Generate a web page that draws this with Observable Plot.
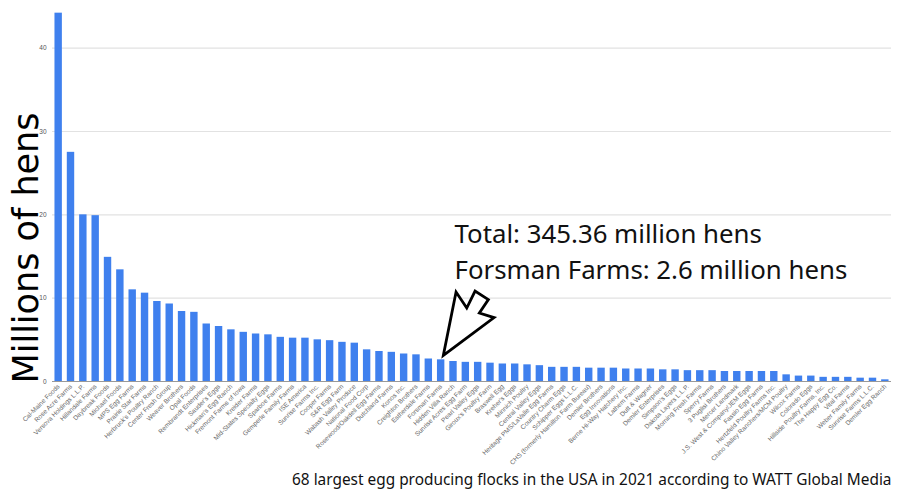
<!DOCTYPE html>
<html>
<head>
<meta charset="utf-8">
<script src="https://cdn.jsdelivr.net/npm/d3@7"></script>
<script src="https://cdn.jsdelivr.net/npm/@observablehq/plot@0.6"></script>
<style>
  html, body { margin: 0; padding: 0; background: #fff; }
  #chart svg { display: block; }
</style>
</head>
<body>
<div id="chart"></div>
<script>
const companies = [
  "Cal-Maine Foods", "Rose Acre Farms", "Versova Holdings L.L.P.", "Hillandale Farms", "Daybreak Foods",
  "Michael Foods", "MPS Egg Farms", "Prairie Star Farms", "Herbruck's Poultry Ranch", "Center Fresh Group",
  "Weaver Brothers", "Opal Foods", "Rembrandt Enterprises", "Sauder's Eggs", "Hickman's Egg Ranch",
  "Fremont Farms of Iowa", "Kreider Farms", "Mid-States Specialty Eggs", "Sparboe Farms", "Gemperle Family Farms",
  "ISE America", "Sunrise Farms Inc.", "Cooper Farms", "S&R Egg Farm", "Wabash Valley Produce",
  "National Food Corp", "Rosewood/Oakdell Egg Farms", "Dutchland Farms", "Konos Inc.", "Creighton Brothers",
  "Estherdale Farms", "Forsman Farms", "Hidden Villa Ranch", "Sunrise Acres Egg Farm", "Pearl Valley Eggs",
  "Giroux's Poultry Farm", "Braswell Egg", "Kreher's Eggs", "Minnich Poultry", "Central Valley Eggs",
  "Heritage PMS/LaValle Egg Farms", "Country Charm Eggs", "Schipper Eggs L.L.C.", "CHS (formerly Hamilton Farm Bureau)", "Demler Brothers",
  "Egg Innovations", "Berne Hi-Way Hatchery Inc.", "Lathem Farms", "Dutt & Wagner", "Demler Enterprises",
  "Simpson's Eggs", "Dakota Layers L.L.P.", "Morning Fresh Farms", "Sperry Farms", "3 Puglisi Brothers",
  "Mercer Landmark", "J.S. West & Company/JEM Eggs", "Fassio Egg Farms", "Hertzfeld Poultry Farms Inc.", "Chino Valley Ranchers/MCM Poultry",
  "Wilcox Farms", "Colorado Eggs", "Hillside Poultry Farms, Inc.", "The Happy Egg Co.", "Vital Farms",
  "Weber Family Farms", "Sunrise Farms L.L.C.", "Demler Egg Ranch"
];
const hens = [
  44.2, 27.5, 20.0, 19.9, 14.9,
  13.4, 11.0, 10.6, 9.6, 9.3,
  8.4, 8.3, 6.9, 6.6, 6.2,
  5.9, 5.7, 5.6, 5.3, 5.2,
  5.2, 5.0, 4.9, 4.7, 4.6,
  3.8, 3.6, 3.5, 3.3, 3.2,
  2.7, 2.6, 2.4, 2.3, 2.3,
  2.2, 2.1, 2.1, 2.0, 1.9,
  1.7, 1.7, 1.7, 1.6, 1.6,
  1.6, 1.5, 1.5, 1.5, 1.4,
  1.4, 1.3, 1.3, 1.3, 1.2,
  1.2, 1.2, 1.2, 1.2, 0.8,
  0.65, 0.65, 0.5, 0.5, 0.5,
  0.4, 0.4, 0.2
];
const yTicks = [0, 10, 20, 30, 40];
const yLabel = "Millions of hens";
const focusCompany = "Forsman Farms";
const annotationLines = ["Total: 345.36 million hens", "Forsman Farms: 2.6 million hens"];
const captionText = "68 largest egg producing flocks in the USA in 2021 according to WATT Global Media";

const data = companies.map((c, i) => ({company: c, value: hens[i]}));
const focus = data.find(d => d.company === focusCompany);

// hollow "broken" block arrow, offsets in px relative to top of focus bar
const arrowShape = [[2.7,-4],[15.4,-67.3],[26.1,-51.3],[34.4,-68.3],[47.7,-59.7],[38.7,-46.3],[53.4,-41.7]];

function arrowMark(index, scales) {
  const x = scales.x, y = scales.y;
  const cx = x(focus.company) + x.bandwidth() / 2;
  const cy = y(focus.value);
  const pts = arrowShape.map(([dx, dy]) => [cx + dx, cy + dy]);
  const path = d3.create("svg:path")
    .attr("d", "M" + pts.map(p => p.join(",")).join("L") + "Z")
    .attr("fill", "#fff")
    .attr("stroke", "#000")
    .attr("stroke-width", 2.8)
    .attr("stroke-linejoin", "miter");
  return path.node();
}

const chart = Plot.plot({
  width: 900,
  height: 494,
  marginLeft: 52,
  marginRight: 9,
  marginTop: 6,
  marginBottom: 113,
  style: {fontFamily: "Liberation Sans, Arial, sans-serif", fontSize: "6.5px", color: "#666", background: "#fff"},
  x: {domain: companies, paddingInner: 0.4, paddingOuter: 0.2, round: false, tickRotate: -45, tickSize: 0, tickPadding: 4, label: null},
  y: {domain: [0, 45], axis: null},
  marks: [
    Plot.ruleY(yTicks.slice(1), {stroke: "#e2e2e2", strokeWidth: 1.2}),
    Plot.barY(data, {x: "company", y: "value", fill: "#3f80ee"}),
    Plot.ruleY([0], {stroke: "#999", strokeWidth: 1}),
    arrowMark,
    Plot.text([annotationLines.join("\n")], {
      frameAnchor: "top-left", dx: 402, dy: 211, textAnchor: "start", lineAnchor: "top",
      lineHeight: 1.4, fontSize: 25.8, fill: "#111", fontFamily: "Noto Sans, Open Sans, sans-serif"
    }),
    Plot.text([yLabel], {
      frameAnchor: "left", rotate: -90, dx: -26, dy: 54, textAnchor: "middle", lineAnchor: "middle",
      fontSize: 35, fill: "#000", fontFamily: "DejaVu Sans, sans-serif"
    }),
    Plot.text(yTicks, {
      y: d => d, text: d => String(d), frameAnchor: "left", dx: -6, textAnchor: "end",
      fontSize: 6.5, fill: "#555"
    }),
    Plot.text([captionText], {
      frameAnchor: "bottom-right", dx: 0, dy: 103, textAnchor: "end", lineAnchor: "bottom",
      fontSize: 15.4, fill: "#111", fontFamily: "Noto Sans, Open Sans, sans-serif"
    })
  ]
});
document.getElementById("chart").appendChild(chart);
</script>
</body>
</html>
